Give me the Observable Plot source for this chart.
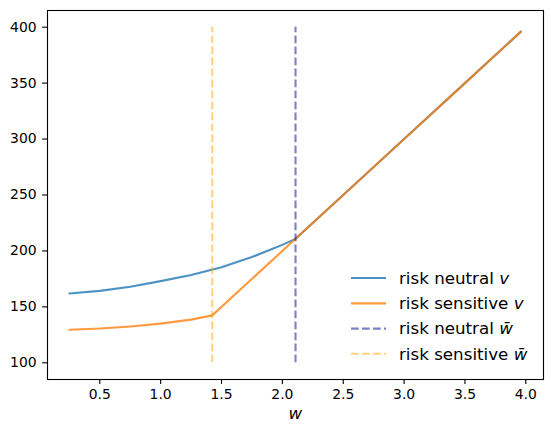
<!DOCTYPE html>
<html><head><meta charset="utf-8">
<script src="https://cdn.jsdelivr.net/npm/d3@7"></script>
<script src="https://cdn.jsdelivr.net/npm/@observablehq/plot@0.6"></script>
<style>body{margin:0;background:#fff} svg{font-family:"DejaVu Sans"}</style>
</head><body><div id="chart"></div>
<script>
const wNeutral = [0.25, 0.5, 0.75, 1.0, 1.25, 1.5, 1.75, 1.9, 2.0, 2.108, 2.5, 3.0, 3.5, 3.96];
const vNeutral = [162, 164.3, 168, 173, 178.5, 185.5, 194.5, 201, 205.4, 210.8, 250, 300, 350, 396];
const wSensitive = [0.25, 0.5, 0.75, 1.0, 1.25, 1.424, 2.108, 2.5, 3.0, 3.5, 3.96];
const vSensitive = [129.5, 130.6, 132.5, 135, 138.6, 142.4, 210.8, 250, 300, 350, 396];
const wBarNeutral = 2.108;
const wBarSensitive = 1.424;
const xTicks = [0.5, 1.0, 1.5, 2.0, 2.5, 3.0, 3.5, 4.0];
const yTicks = [100, 150, 200, 250, 300, 350, 400];
const legendLabels = [["risk neutral ", "v"], ["risk sensitive ", "v"], ["risk neutral ", "w\u0304"], ["risk sensitive ", "w\u0304"]];

const neutral = wNeutral.map((w, i) => ({w, v: vNeutral[i]}));
const sensitive = wSensitive.map((w, i) => ({w, v: vSensitive[i]}));

const styles = [
  {stroke: "#1f77b4", opacity: 0.8, dash: null},
  {stroke: "#ff7f0e", opacity: 0.8, dash: null},
  {stroke: "darkblue", opacity: 0.5, dash: "7.7,3.3"},
  {stroke: "orange", opacity: 0.5, dash: "7.7,3.3"}
];
const lw = 2.1;

const chart = Plot.plot({
  width: 552, height: 435,
  marginLeft: 47, marginRight: 9, marginTop: 10, marginBottom: 56,
  style: {fontFamily: "DejaVu Sans", fontSize: "13.9px", color: "black", background: "white"},
  x: {domain: [0.0703, 4.1454]},
  y: {domain: [85.07, 414.9]},
  marks: [
    Plot.line(neutral, {x: "w", y: "v", stroke: styles[0].stroke, strokeOpacity: styles[0].opacity, strokeWidth: lw}),
    Plot.line(sensitive, {x: "w", y: "v", stroke: styles[1].stroke, strokeOpacity: styles[1].opacity, strokeWidth: lw}),
    Plot.ruleX([wBarNeutral], {y1: 100, y2: 400, stroke: styles[2].stroke, strokeOpacity: styles[2].opacity, strokeWidth: lw, strokeDasharray: styles[2].dash}),
    Plot.ruleX([wBarSensitive], {y1: 100, y2: 400, stroke: styles[3].stroke, strokeOpacity: styles[3].opacity, strokeWidth: lw, strokeDasharray: styles[3].dash}),
    Plot.frame({stroke: "black", strokeWidth: 1.1}),
    Plot.axisX({ticks: xTicks, tickFormat: d3.format(".1f"), tickSize: 4.9, tickPadding: 5, strokeWidth: 1.1, label: null, fill: "black"}),
    Plot.axisY({ticks: yTicks, tickSize: 4.9, tickPadding: 6, strokeWidth: 1.1, label: null, fill: "black"})
  ]
});
document.getElementById("chart").appendChild(chart);

const svg = d3.select(chart);
// x label
svg.append("text").attr("x", 295.3).attr("y", 419.3).attr("text-anchor", "middle")
  .attr("font-family", "DejaVu Sans").attr("font-style", "italic").attr("font-size", "16.7px")
  .attr("fill", "black").text("w");

// legend
const rowY = [278, 303.4, 328.6, 353.8];
const lg = svg.append("g").attr("text-anchor", "start");
legendLabels.forEach((lab, i) => {
  const s = styles[i];
  lg.append("line").attr("x1", 351).attr("x2", 386).attr("y1", rowY[i]).attr("y2", rowY[i])
    .attr("stroke", s.stroke).attr("stroke-opacity", s.opacity).attr("stroke-width", lw)
    .attr("stroke-dasharray", s.dash);
  const t = lg.append("text").attr("x", 399).attr("y", rowY[i] + 5.7).attr("text-anchor", "start")
    .attr("font-family", "DejaVu Sans").attr("font-size", "16.7px").attr("fill", "black");
  t.append("tspan").text(lab[0]);
  t.append("tspan").attr("font-style", "italic").text(lab[1]);
});
</script>
</body></html>
